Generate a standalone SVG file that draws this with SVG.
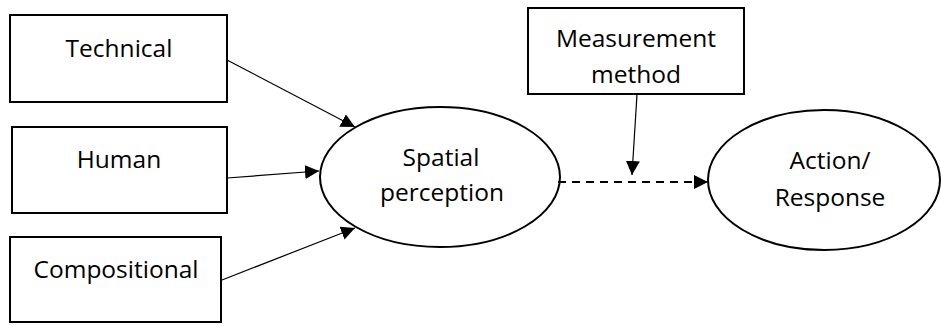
<svg xmlns="http://www.w3.org/2000/svg" width="941" height="326" viewBox="0 0 941 326">
<style>
.box{fill:#fff;stroke:#000;stroke-width:2}
.ell{fill:#fff;stroke:#000;stroke-width:2}
.lbl{font-family:"Open Sans","Noto Sans",sans-serif;font-size:24.5px;fill:#000;text-anchor:middle}
.arr{stroke:#000;stroke-width:1.2;fill:none}
.dash{stroke:#000;stroke-width:2;fill:none;stroke-dasharray:8 6}
</style>
<defs>
<marker id="ah" viewBox="0 0 10 10" refX="10" refY="5" markerWidth="14" markerHeight="14" markerUnits="userSpaceOnUse" orient="auto">
<path d="M0,0 L10,5 L0,10 Z" fill="#000"/>
</marker>
</defs>
<g id="technical"><rect class="box" x="10" y="15" width="217" height="87"/><text class="lbl" x="119" y="57">Technical</text></g>
<g id="human"><rect class="box" x="12" y="127" width="215" height="86"/><text class="lbl" x="119" y="168">Human</text></g>
<g id="compositional"><rect class="box" x="10" y="237" width="211" height="85"/><text class="lbl" x="116" y="278">Compositional</text></g>
<g id="measurement"><rect class="box" x="528" y="8" width="216" height="86"/><text class="lbl" x="636" y="47">Measurement</text><text class="lbl" x="636" y="83">method</text></g>
<g id="spatial"><ellipse class="ell" cx="440" cy="177" rx="120" ry="70"/><text class="lbl" x="441" y="166">Spatial</text><text class="lbl" x="442" y="201">perception</text></g>
<g id="action"><ellipse class="ell" cx="824" cy="180" rx="116" ry="70"/><text class="lbl" x="830" y="169">Action/</text><text class="lbl" x="830" y="206">Response</text></g>
<g id="connectors">
<line class="arr" x1="227" y1="60" x2="355" y2="127" marker-end="url(#ah)"/>
<line class="arr" x1="227" y1="178" x2="319" y2="171" marker-end="url(#ah)"/>
<line class="arr" x1="222" y1="280" x2="355" y2="228" marker-end="url(#ah)"/>
<line class="arr" x1="637" y1="94" x2="632" y2="175" marker-end="url(#ah)"/>
<line class="dash" x1="558" y1="182" x2="694" y2="182"/>
<line class="arr" x1="694" y1="182" x2="708" y2="182" marker-end="url(#ah)"/>
</g>
</svg>
